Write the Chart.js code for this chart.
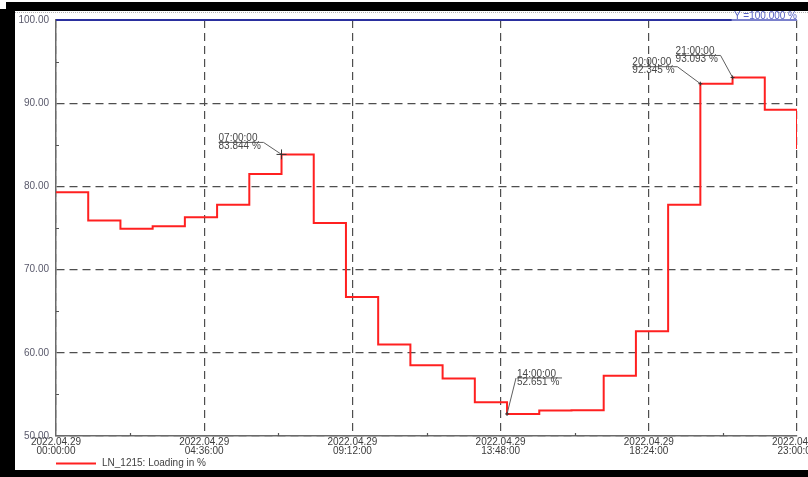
<!DOCTYPE html>
<html>
<head>
<meta charset="utf-8">
<title>LN_1215 Loading</title>
<script src="https://cdn.jsdelivr.net/npm/chart.js@4.4.1/dist/chart.umd.min.js"></script>
<style>
  html, body { margin: 0; padding: 0; background: #fff; overflow: hidden; }
  #wrap { position: relative; width: 808px; height: 477px; }
  canvas { display: block; }
</style>
</head>
<body>
<div id="wrap"><canvas id="chart" width="808" height="477"></canvas></div>
<script>
// Hourly loading of line LN_1215 on 2022.04.29 (value holds until the next hour)
const hours = [0, 1, 2, 3, 4, 5, 6, 7, 8, 9, 10, 11, 12, 13, 14, 15, 16, 17, 18, 19, 20, 21, 22, 23];
const loading = [79.3, 75.9, 74.9, 75.2, 76.3, 77.8, 81.5, 83.844, 75.6, 66.7, 61.0, 58.5,
                 56.9, 54.05, 52.651, 53.05, 53.1, 57.25, 62.6, 77.8, 92.345, 93.093, 89.2, 84.5];

// Axis ticks
const xTickHours = [0, 4.6, 9.2, 13.8, 18.4, 23];
const xTickLabels = [
  ['2022.04.29', '00:00:00'],
  ['2022.04.29', '04:36:00'],
  ['2022.04.29', '09:12:00'],
  ['2022.04.29', '13:48:00'],
  ['2022.04.29', '18:24:00'],
  ['2022.04.29', '23:00:00']
];
const xMinorHours = [2.3, 6.9, 11.5, 16.1, 20.7];
const yTicks = [50, 60, 70, 80, 90, 100];
const yMinor = [55, 65, 75, 85, 95];

// Limit line
const limitValue = 100;
const limitLabel = 'Y =100.000 %';

// Hours carrying a value callout
const markedHours = [7, 14, 20, 21];
// Callout placement relative to the marked point
const calloutPlacement = [
  { dx: -63, dy: -12, elbow: 'right', cross: true },
  { dx: 10,  dy: -36, elbow: 'left',  cross: false },
  { dx: -68, dy: -17, elbow: 'right', cross: false },
  { dx: -57, dy: -22, elbow: 'right', cross: false }
];

const seriesLabel = 'LN_1215: Loading in %';
const FONT = '"Liberation Sans", Arial, sans-serif';

const pad2 = n => String(n).padStart(2, '0');

const overlay = {
  id: 'overlay',
  afterDatasetsDraw(chart) {
    const { ctx, chartArea: ca, scales: { x, y } } = chart;
    ctx.save();

    // minor tick marks on both axes
    ctx.strokeStyle = '#555';
    ctx.lineWidth = 1.2;
    ctx.beginPath();
    xMinorHours.forEach(h => {
      const px = Math.round(x.getPixelForValue(h)) + 0.5;
      ctx.moveTo(px, ca.bottom);
      ctx.lineTo(px, ca.bottom - 3);
    });
    yMinor.forEach(v => {
      const py = Math.round(y.getPixelForValue(v)) + 0.5;
      ctx.moveTo(ca.left, py);
      ctx.lineTo(ca.left + 3, py);
    });
    ctx.stroke();

    // limit line with its label
    const ly = y.getPixelForValue(limitValue);
    ctx.font = '10px ' + FONT;
    const lw = ctx.measureText(limitLabel).width;
    ctx.lineWidth = 2;
    ctx.strokeStyle = '#2a2f9e';
    ctx.beginPath();
    ctx.moveTo(ca.left, ly);
    ctx.lineTo(ca.right - lw - 2, ly);
    ctx.stroke();
    ctx.strokeStyle = '#7a80cc';
    ctx.beginPath();
    ctx.moveTo(ca.right - lw - 2, ly);
    ctx.lineTo(ca.right, ly);
    ctx.stroke();

    // value callouts
    ctx.font = '10px ' + FONT;
    ctx.textAlign = 'left';
    markedHours.forEach((h, k) => {
      const i = hours.indexOf(h);
      const v = loading[i];
      const px = x.getPixelForValue(h);
      const py = y.getPixelForValue(v);
      const p = calloutPlacement[k];
      const tx = px + p.dx;
      const uy = py + p.dy;
      const ex = p.elbow === 'right' ? tx + 45 : tx - 1;

      ctx.strokeStyle = '#5e5e5e';
      ctx.lineWidth = 1;
      ctx.beginPath();
      ctx.moveTo(tx, uy);
      ctx.lineTo(tx + 45, uy);
      ctx.moveTo(ex, uy);
      ctx.lineTo(px, py);
      ctx.stroke();

      ctx.strokeStyle = '#333';
      ctx.beginPath();
      const r = p.cross ? 5 : 2;
      ctx.moveTo(px - r, py);
      ctx.lineTo(px + r, py);
      ctx.moveTo(px, py - r);
      ctx.lineTo(px, py + r);
      ctx.stroke();

      ctx.fillStyle = '#474747';
      ctx.textBaseline = 'middle';
      ctx.fillText(pad2(h) + ':00:00', tx, uy - 4);
      ctx.fillText(v.toFixed(3) + ' %', tx, uy + 4);
    });

    ctx.restore();
  },
  afterDraw(chart) {
    const { ctx, chartArea: ca, width, height, scales: { y } } = chart;
    const ds = chart.data.datasets[0];
    ctx.save();

    // legend
    ctx.strokeStyle = ds.borderColor;
    ctx.lineWidth = 2;
    ctx.beginPath();
    ctx.moveTo(ca.left, 463.5);
    ctx.lineTo(ca.left + 40, 463.5);
    ctx.stroke();
    ctx.fillStyle = '#3f3f3f';
    ctx.font = '10px ' + FONT;
    ctx.textAlign = 'left';
    ctx.textBaseline = 'middle';
    ctx.fillText(ds.label, ca.left + 46, 463.5);

    // window frame
    ctx.fillStyle = '#000';
    ctx.fillRect(6, 2, width - 6, 9);
    ctx.fillRect(0, 9, 15, height - 9);
    ctx.fillRect(0, 470, width, height - 470);
    ctx.fillStyle = '#b4b4b4';
    for (let px = 15; px < width; px += 2) ctx.fillRect(px, 12, 1, 1);

    // limit label sits over the frame's dotted rule
    ctx.fillStyle = '#5560c4';
    ctx.font = '10px ' + FONT;
    ctx.textAlign = 'right';
    ctx.textBaseline = 'alphabetic';
    ctx.fillText(limitLabel, ca.right, y.getPixelForValue(limitValue) - 1.5);

    ctx.restore();
  }
};

const gridStyle = { color: '#4e4e4e', lineWidth: 1.2, drawTicks: false };
const borderStyle = { color: '#6a6a6a', width: 1.5, dash: [8, 5] };

new Chart(document.getElementById('chart'), {
  type: 'line',
  data: {
    datasets: [{
      label: seriesLabel,
      data: hours.map((h, i) => ({ x: h, y: loading[i] })),
      borderColor: '#ff2020',
      borderWidth: 2,
      pointRadius: 0,
      stepped: true,
      fill: false
    }]
  },
  options: {
    responsive: false,
    animation: false,
    events: [],
    layout: { padding: { left: 15, right: 11, top: 20, bottom: 0 } },
    plugins: { legend: { display: false }, tooltip: { enabled: false } },
    scales: {
      x: {
        type: 'linear',
        min: 0,
        max: 23,
        afterBuildTicks: s => { s.ticks = xTickHours.map(v => ({ value: v })); },
        afterFit: s => { s.height = 41; s.paddingLeft = 0; s.paddingRight = 0; },
        ticks: {
          autoSkip: false,
          maxRotation: 0,
          padding: 2,
          color: '#3c3c3c',
          font: { family: FONT, size: 10, lineHeight: 0.9 },
          callback: (v, i) => xTickLabels[i]
        },
        grid: gridStyle,
        border: borderStyle
      },
      y: {
        min: 50,
        max: 100,
        afterBuildTicks: s => { s.ticks = yTicks.map(v => ({ value: v })); },
        afterFit: s => { s.width = 41; s.paddingTop = 0; s.paddingBottom = 0; },
        ticks: {
          padding: 7,
          color: '#59596b',
          font: { family: FONT, size: 10 },
          callback: v => Number(v).toFixed(2)
        },
        grid: gridStyle,
        border: borderStyle
      }
    }
  },
  plugins: [overlay]
});
</script>
</body>
</html>
